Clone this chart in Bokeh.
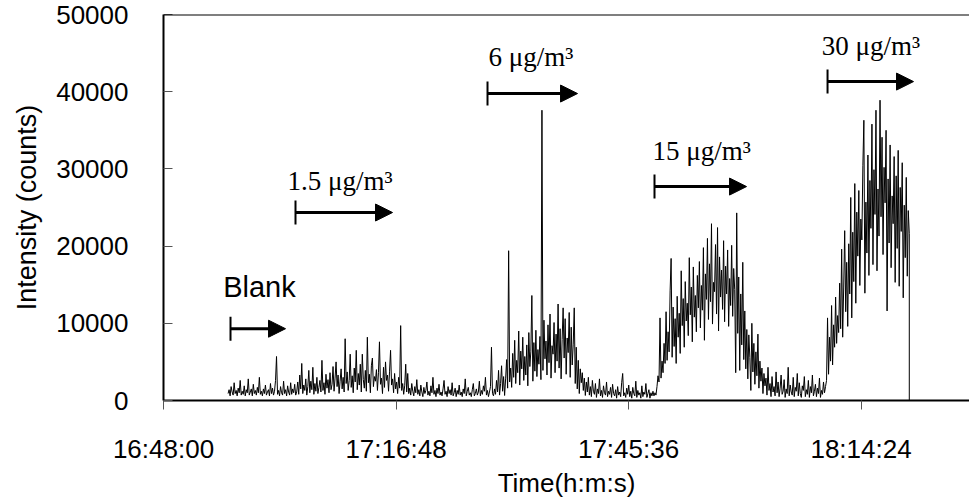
import numpy as np
from bokeh.plotting import figure
from bokeh.models import Range1d, FixedTicker, Span, Arrow, NormalHead, TeeHead, ColumnDataSource
from bokeh.core.properties import value
from bokeh.embed import file_html
from bokeh.resources import INLINE

# ---------------- data ----------------
origin = "16:48:00"
x_tick_labels = ["16:48:00", "17:16:48", "17:45:36", "18:14:24"]
y_ticks = [0, 10000, 20000, 30000, 40000, 50000]
record_start = "16:56:00"
sample_step_s = 7.5

blank_counts = [900, 1400, 600, 1800, 1100, 700, 2300, 900, 1300, 600,
                1600, 1000, 2600, 700, 1200, 800, 1900, 600, 1400, 1000,
                2800, 700, 1100, 1500, 600, 2100, 900, 1300, 700, 1700,
                1000, 3000, 800, 1200, 600, 1500, 900, 2000, 700, 1100,
                1400, 600, 2200, 900, 1600, 700, 1200, 2600, 5700, 800,
                1300, 600, 1800, 1000, 700, 2500, 900, 1400, 600, 1900,
                1100, 700, 2300, 800, 1500, 1000, 2100, 700]

c1_5_counts = [1100, 2400, 800, 3300, 1500, 4800, 900, 2000, 1300, 2800,
               700, 1800, 3900, 1000, 2500, 1400, 4300, 800, 2200, 1200,
               3000, 900, 1700, 2600, 1100, 5200, 1300, 2300, 800, 3400,
               1600, 2700, 1000, 3600, 1400, 2100, 4400, 1200, 2900, 5000,
               1800, 3300, 900, 2500, 4100, 1500, 3000, 1100, 8000, 2200,
               3700, 1300, 2600, 6000, 1700, 3200, 1000, 4200, 2400, 6500,
               1400, 3500, 2000, 4700, 1100, 6000, 2700, 1600, 3900, 1200,
               8200, 2300, 3400, 1000, 4500, 5500, 1800, 3100, 2500, 4000,
               1300, 3600, 7600, 2100, 2900, 900, 4300, 1700, 5000, 2600,
               3300, 1200, 3800, 6500, 2000, 2800, 1000, 3500, 1500, 2400,
               900, 3000, 1600, 9700, 1300, 2200, 800, 1900, 4700, 1100,
               3500, 900, 1600, 700, 2200, 1200, 600, 1800, 1000, 2700,
               800, 1400, 600, 2000, 1100, 500, 1700, 900, 1300, 2400,
               700, 1200, 600, 1900, 1000, 3000, 800, 1300, 500, 1600,
               900, 2100, 700, 1100, 600, 1500, 2600, 800, 1200, 500,
               1800, 900, 1400, 700, 2300, 600, 1000, 1600, 500, 1300,
               800, 2000, 700, 1100, 500, 1500, 900, 2800, 600, 1200,
               1700, 700, 1000, 500, 1400, 2200, 600, 900, 1500, 700,
               1100, 2500, 600, 1300, 800, 1900, 1200, 3000]

c6_counts = [700, 1300, 500, 1100, 1800, 6900, 900, 600, 1500, 800,
             2600, 1100, 3900, 700, 2200, 4500, 1200, 3100, 650, 2800,
             5300, 1600, 19400, 2400, 4200, 1700, 6100, 3000, 7800, 2200,
             5200, 3600, 9000, 2000, 6400, 4100, 8200, 2600, 5700, 3300,
             7200, 1900, 8800, 4400, 6300, 13600, 2500, 7500, 3800, 9100,
             3100, 6600, 4700, 8300, 2700, 37600, 3900, 10400, 5400, 7700,
             3300, 9800, 4900, 11200, 2900, 7100, 6000, 10100, 3600, 8600,
             5100, 12500, 4200, 9300, 2800, 7900, 12000, 5500, 10600, 3400,
             8100, 6200, 11400, 3000, 9500, 4600, 7300, 12000, 2200, 6900,
             1500, 5200, 900, 4100, 2300, 3600, 1300, 2900, 650, 2400,
             1100, 3000, 700, 1800, 500, 2600, 1200, 800, 2200, 400,
             1500, 900, 2800, 600, 1300, 400, 1900, 1000, 700, 2400,
             500, 1200, 800, 1700, 400, 2100, 900, 600, 1400, 300,
             1800, 700, 1100, 500, 2300, 3500, 600, 1000, 400, 1600,
             800, 2000, 500, 1200, 300, 1700, 900, 600, 2500, 400,
             1300, 700, 1000, 300, 1900, 500, 1100, 800, 2200, 400,
             900, 1400, 300, 1000, 600, 1200]

c15_counts = [600, 1000, 700, 1800, 3200, 2400, 10700, 2900, 5100, 3600,
              7400, 4800, 11500, 5200, 8900, 6300, 14200, 18400, 5600, 12100,
              7000, 10600, 4800, 13500, 8200, 11300, 6100, 16800, 9700, 13200,
              6900, 15400, 10300, 12600, 8400, 18500, 11100, 14700, 7600, 17300,
              10800, 13600, 8900, 16200, 12000, 18000, 9400, 14900, 11700, 19800,
              7800, 16400, 13100, 21000, 10500, 17700, 12800, 22900, 9900, 15300,
              14100, 20200, 11200, 22400, 9000, 18600, 13400, 16900, 11800, 20700,
              10200, 17400, 13800, 19500, 9600, 15800, 12300, 20100, 10900, 17100,
              14400, 3600, 24300, 8700, 16000, 3900, 13800, 7200, 17900, 5300,
              11600, 4100, 9200, 2800, 8500, 5600, 1300, 10000, 3700, 7400,
              2100, 6300, 3200, 8600, 1600, 5100, 2500, 4200, 900, 3500,
              1900, 2900, 700, 4300, 1300, 2200, 500, 3100, 1100, 1800,
              600, 3700, 1000, 2400, 500, 1600, 3300, 800, 1200, 2700,
              400, 1500, 900, 4300, 600, 2000, 1100, 700, 3000, 500,
              1700, 1200, 3500, 600, 2300, 900, 400, 1900, 1300, 3100,
              500, 1400, 800, 2600, 400, 1800, 1000, 3300, 600, 1200,
              2100, 500, 1600, 900, 2900, 400, 1300, 800, 2400, 1000]

c30_counts = [1800, 2600, 10700, 3400, 8200, 5100, 12300, 4600, 9800, 6900,
              13400, 7400, 11000, 8800, 15200, 9300, 19600, 8200, 14700, 22000,
              11500, 17900, 9600, 20300, 13800, 26300, 10700, 21800, 15400, 28100,
              12600, 24400, 18700, 27200, 14900, 23500, 20800, 30400, 36300, 13900,
              25700, 19100, 31800, 16200, 28500, 22300, 35800, 17600, 29900, 24100,
              37600, 16800, 27400, 21300, 38900, 23800, 34100, 18900, 30200, 25600,
              35000, 11600, 28700, 20400, 33100, 17200, 26500, 22900, 31600, 15300,
              29100, 19700, 32400, 14800, 27600, 21900, 30800, 13300, 25300, 18500,
              28900, 16100, 24600, 21600]
final_count = 0

conc_labels = ["Blank", "1.5 \u03bcg/m\u00b3", "6 \u03bcg/m\u00b3", "15 \u03bcg/m\u00b3", "30 \u03bcg/m\u00b3"]


def to_sec(s):
    h, m, sec = map(int, s.split(":"))
    h0, m0, s0 = map(int, origin.split(":"))
    return (h * 3600 + m * 60 + sec) - (h0 * 3600 + m0 * 60 + s0)


counts = blank_counts + c1_5_counts + c6_counts + c15_counts + c30_counts
times = list(to_sec(record_start) + sample_step_s * np.arange(len(counts)))
times.append(times[-1])
counts = counts + [final_count]

x_ticks = [to_sec(s) for s in x_tick_labels]

# ---------------- figure ----------------
p = figure(width=969, height=501, output_backend="svg", toolbar_location=None,
           x_range=Range1d(0, 5990), y_range=Range1d(0, 50000),
           min_border_left=163, min_border_right=0, min_border_top=14, min_border_bottom=101)
p.outline_line_color = None
p.background_fill_color = "white"
p.border_fill_color = "white"
p.xgrid.visible = False
p.ygrid.visible = False

p.line(times, counts, line_color="black", line_width=1)

# top border of plot area
p.add_layout(Span(location=50000, dimension="width", line_color="black", line_width=2))

# axes
xa = p.xaxis[0]
xa.ticker = FixedTicker(ticks=x_ticks)
xa.major_label_overrides = {t: lab for t, lab in zip(x_ticks, x_tick_labels)}
xa.minor_tick_line_color = None
xa.major_tick_in = 0
xa.major_tick_out = 9
xa.major_tick_line_color = "#555555"
xa.axis_line_width = 2
xa.axis_line_color = "black"
xa.major_label_text_font = "Liberation Sans"
xa.major_label_text_font_size = "26px"
xa.major_label_text_color = "black"
xa.major_label_standoff = 24
xa.axis_label = "Time(h:m:s)"
xa.axis_label_text_font = "Liberation Sans"
xa.axis_label_text_font_size = "26px"
xa.axis_label_text_font_style = "normal"
xa.axis_label_text_color = "black"
xa.axis_label_standoff = 1

ya = p.yaxis[0]
ya.ticker = FixedTicker(ticks=y_ticks)
ya.minor_tick_line_color = None
ya.major_tick_in = 9
ya.major_tick_out = 0
ya.major_tick_line_color = "#555555"
ya.axis_line_width = 2
ya.axis_line_color = "black"
ya.major_label_text_font = "Liberation Sans"
ya.major_label_text_font_size = "26px"
ya.major_label_text_color = "black"
ya.major_label_standoff = 35
ya.axis_label = "Intensity (counts)"
ya.axis_label_text_font = "Liberation Sans"
ya.axis_label_text_font_size = "27px"
ya.axis_label_text_font_style = "normal"
ya.axis_label_text_color = "black"
ya.axis_label_standoff = 11

# ---------------- annotations ----------------
arrow_start = ["16:56:18", "17:04:21", "17:28:08", "17:48:49", "18:10:15"]
arrow_end = ["17:03:07", "17:16:22", "17:39:17", "18:00:13", "18:20:54"]
arrow_level = [9300, 24350, 39760, 27710, 41310]
for s, e, lv in zip(arrow_start, arrow_end, arrow_level):
    p.add_layout(Arrow(x_start=to_sec(s), y_start=lv, x_end=to_sec(e), y_end=lv,
                       line_color="black", line_width=3,
                       start=TeeHead(size=24, line_color="black", line_width=2),
                       end=NormalHead(size=17, fill_color="black", line_color="black", line_width=1)))

text_time = ["16:59:53", "17:03:22", "17:28:15", "17:48:34", "18:09:32"]
text_level = [14640, 28400, 44500, 32380, 45950]

src_blank = ColumnDataSource(dict(x=[to_sec(text_time[0])], y=[text_level[0]], t=[conc_labels[0]]))
p.text(x="x", y="y", text="t", source=src_blank, text_font=value("Liberation Sans"),
       text_font_size="29px", text_align="center", text_baseline="alphabetic", text_color="black")

src_conc = ColumnDataSource(dict(x=[to_sec(t) for t in text_time[1:]], y=text_level[1:], t=conc_labels[1:]))
p.text(x="x", y="y", text="t", source=src_conc, text_font=value("Liberation Serif"),
       text_font_size="27px", text_align="left", text_baseline="alphabetic", text_color="black")

open("out.html", "w").write(file_html(p, INLINE))
